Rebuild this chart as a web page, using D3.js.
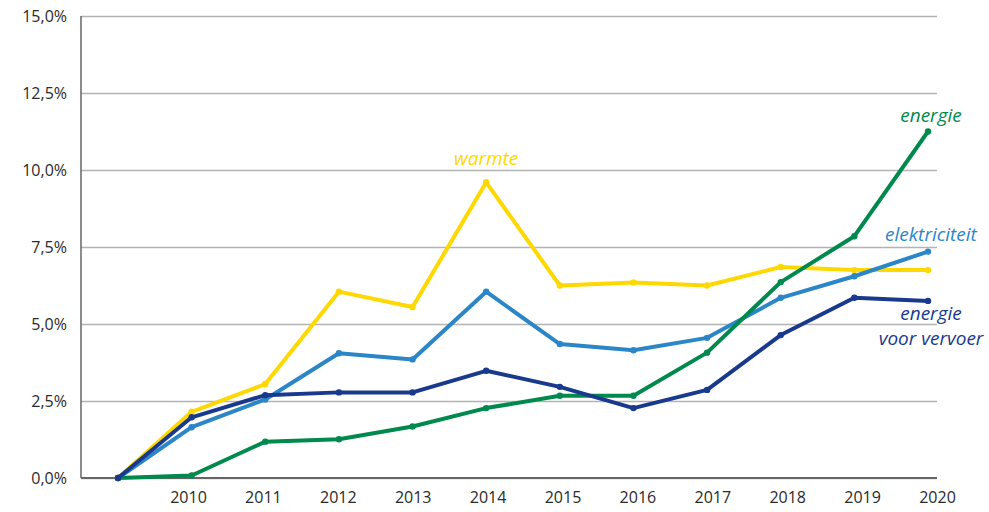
<!DOCTYPE html>
<html>
<head>
<meta charset="utf-8">
<script src="https://cdn.jsdelivr.net/npm/d3@7"></script>
<style>
  body { margin: 0; background: #fff; }
  svg { display: block; font-family: "Open Sans", sans-serif; }
  .tick text { fill: #2a2a2a; font-size: 16px; font-family: "Open Sans", sans-serif; }
  .series-label { font-style: italic; font-size: 19px; }
</style>
</head>
<body>
<div id="chart"></div>
<script>
// years: 2009 is the start point (no label)
const years = [2009, 2010, 2011, 2012, 2013, 2014, 2015, 2016, 2017, 2018, 2019, 2020];
const yearLabels = [2010, 2011, 2012, 2013, 2014, 2015, 2016, 2017, 2018, 2019, 2020];
const yTicks = [0, 2.5, 5, 7.5, 10, 12.5, 15];

const warmte        = [0, 2.15, 3.05, 6.05, 5.55, 9.6, 6.25, 6.35, 6.25, 6.85, 6.75, 6.75];
const elektriciteit = [0, 1.65, 2.55, 4.05, 3.85, 6.05, 4.35, 4.15, 4.55, 5.85, 6.55, 7.35];
const energie       = [0, 0.08, 1.18, 1.26, 1.67, 2.27, 2.67, 2.67, 4.07, 6.36, 7.85, 11.25];
const vervoer       = [0, 1.97, 2.69, 2.78, 2.78, 3.48, 2.96, 2.27, 2.86, 4.64, 5.85, 5.75];

const series = [
    {name: "warmte", values: warmte, color: "#ffd800", label: ["warmte"], lx: 2014, ly: 165},
    {name: "elektriciteit", values: elektriciteit, color: "#2b86c8", label: ["elektriciteit"], lx: 2020, ly: 241},
    {name: "energie", values: energie, color: "#00894d", label: ["energie"], lx: 2020, ly: 122},
    {name: "vervoer", values: vervoer, color: "#193a8c", label: ["energie", "voor vervoer"], lx: 2020, ly: 320}
];

const width = 989, height = 512;
const svg = d3.select("#chart").append("svg")
    .attr("width", width)
    .attr("height", height);

const x = d3.scaleLinear().domain([2009, 2020]).range([118, 928]);
// category labels sit slightly offset from the data points
const xLab = d3.scaleLinear().domain([2010, 2020]).range([188, 937]);
const y = d3.scaleLinear().domain([0, 15]).range([478, 16]);

const fmt = d => d3.format(".1f")(d).replace(".", ",") + "%";

// gridlines + y labels
const yAxis = svg.append("g")
    .attr("transform", "translate(81,0)")
    .call(d3.axisLeft(y).tickValues(yTicks).tickFormat(fmt).tickSize(-(937 - 81)).tickPadding(14));
yAxis.attr("font-family", null).attr("font-size", null);
yAxis.select(".domain").remove();
yAxis.selectAll(".tick line").attr("stroke", "#b3b3b3").attr("stroke-width", 1.3);
yAxis.selectAll(".tick text").attr("dy", "0.36em");

// vertical axis line
svg.append("line")
    .attr("x1", 81).attr("x2", 81)
    .attr("y1", y(15)).attr("y2", y(0))
    .attr("stroke", "#666").attr("stroke-width", 1.5);

// horizontal axis
const xAxis = svg.append("g")
    .attr("transform", `translate(0,${y(0)})`)
    .call(d3.axisBottom(xLab).tickValues(yearLabels).tickFormat(d3.format("d")).tickSize(0).tickPadding(14));
xAxis.attr("font-family", null).attr("font-size", null);
xAxis.select(".domain").remove();
svg.append("line")
    .attr("x1", 81).attr("x2", 937)
    .attr("y1", y(0)).attr("y2", y(0))
    .attr("stroke", "#666").attr("stroke-width", 1.8);

const line = d3.line()
    .x((d, i) => x(years[i]))
    .y(d => y(d));

series.forEach(s => {
    const g = svg.append("g");
    g.append("path")
        .datum(s.values)
        .attr("fill", "none")
        .attr("stroke", s.color)
        .attr("stroke-width", 4)
        .attr("stroke-linejoin", "round")
        .attr("d", line);
    g.selectAll("circle")
        .data(s.values)
        .join("circle")
        .attr("cx", (d, i) => x(years[i]))
        .attr("cy", d => y(d))
        .attr("r", 3.2)
        .attr("fill", s.color);

    const lx = s.lx === 2020 ? 931 : x(s.lx);
    s.label.forEach((l, i) => {
        svg.append("text")
            .attr("class", "series-label")
            .attr("fill", s.color)
            .attr("text-anchor", "middle")
            .attr("x", lx)
            .attr("y", s.ly + i * 25)
            .text(l);
    });
});
</script>
</body>
</html>
